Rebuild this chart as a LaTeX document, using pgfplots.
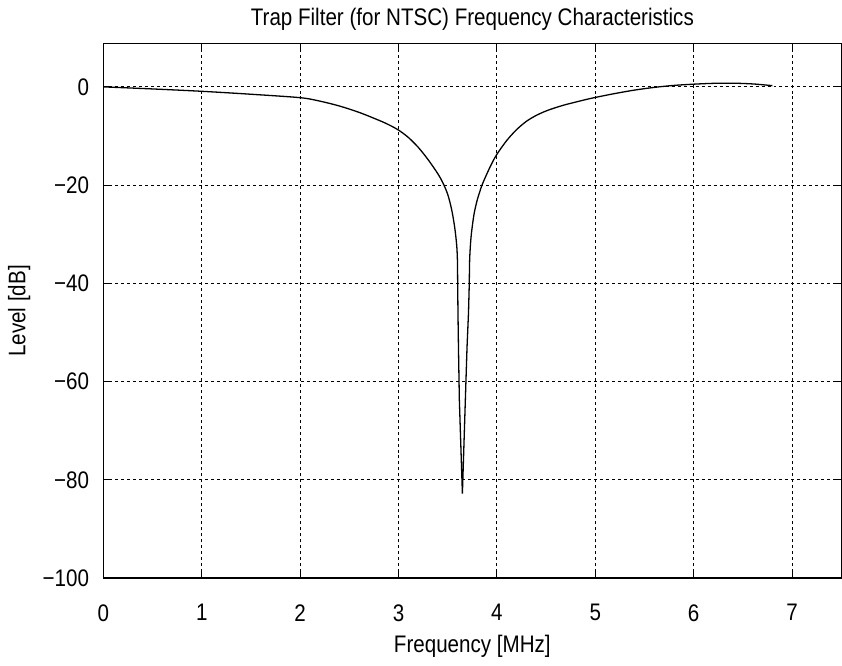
\documentclass[border=0pt]{standalone}
\usepackage{pgfplots}
\pgfplotsset{compat=1.18}
\usepackage{fontspec}
\setmainfont{Liberation Sans}[FakeStretch=0.86]
\begin{document}
\fontsize{12}{14}\selectfont
\begin{tikzpicture}
\begin{axis}[
  scale only axis,
  width=370pt, height=268pt,
  xmin=0, xmax=7.5, ymin=-100, ymax=8.8,
  xtick={0,1,...,7},
  ytick={-100,-80,-60,-40,-20,0},
  yticklabels={−100,−80,−60,−40,−20,0},
  /pgf/number format/assume math mode=true,
  tick align=inside,
  major tick length=3pt,
  tick style={black, line width=0.5pt},
  axis line style={line width=0.7pt},
  grid=major,
  major grid style={black, line width=0.45pt, dash pattern=on 1.5pt off 1.5pt},
  title={Trap Filter (for NTSC) Frequency Characteristics},
  xlabel={Frequency [MHz]},
  ylabel={Level [dB]},
  xlabel style={yshift=1.5pt},
  ylabel style={yshift=-2pt},
  tick label style={font=\fontsize{12}{14}\selectfont},
  label style={font=\fontsize{12}{14}\selectfont},
  title style={font=\fontsize{12}{14}\selectfont, yshift=-3.5pt},
  xticklabel style={yshift=-9pt},
  yticklabel style={xshift=-3pt},
  clip=false,
]
% left branch
\addplot[black, line width=0.65pt, smooth] coordinates {
(0,0) (0.5,-0.42) (1,-0.9) (1.5,-1.5) (2.0,-2.2) (2.2,-2.9) (2.4,-3.9)
(2.6,-5.2) (2.8,-6.8) (2.9,-7.7) (3.0,-8.8) (3.1,-10.3) (3.2,-12.3)
(3.3,-14.8) (3.4,-17.7) (3.45,-19.5) (3.5,-21.9) (3.54,-25) (3.57,-28.5)
(3.59,-32) (3.598,-35) (3.601,-40)
};
% notch
\addplot[black, line width=0.65pt] coordinates {
(3.601,-40) (3.604,-46) (3.609,-53) (3.618,-63.7) (3.649,-82.8)
(3.679,-63.7) (3.696,-53) (3.711,-46) (3.719,-40)
};
% right branch
\addplot[black, line width=0.65pt, smooth] coordinates {
(3.719,-40) (3.723,-35) (3.735,-31) (3.75,-28.3) (3.77,-25.6) (3.80,-23.0)
(3.825,-21.4) (3.848,-20.0) (3.9,-17.6) (3.95,-15.5) (4.0,-13.7) (4.1,-10.9)
(4.2,-8.7) (4.3,-7.0) (4.4,-5.8) (4.5,-4.9) (4.6,-4.2) (4.7,-3.6) (4.8,-3.1)
(4.9,-2.6) (5.0,-2.15) (5.2,-1.35) (5.4,-0.65) (5.6,-0.1) (5.8,0.3)
(6.0,0.55) (6.2,0.72) (6.4,0.75) (6.6,0.6) (6.8,0.25)
};
\end{axis}
\end{tikzpicture}
\end{document}
